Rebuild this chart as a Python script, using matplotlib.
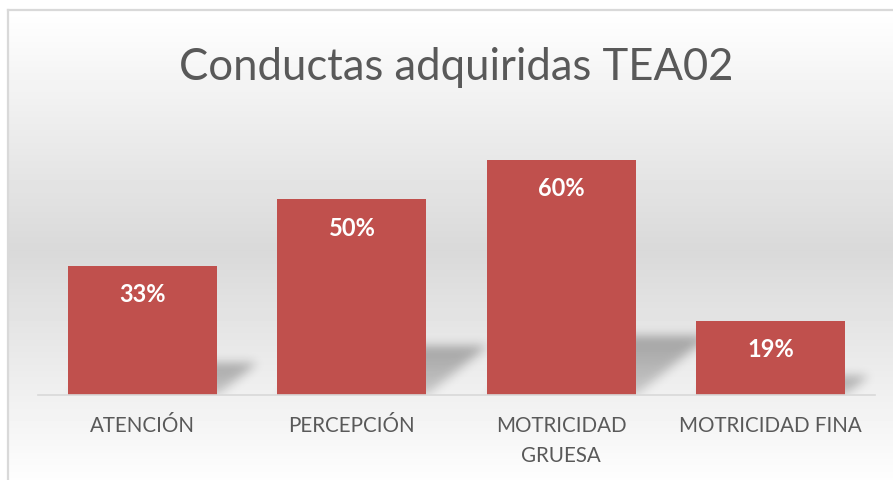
import numpy as np
import matplotlib
matplotlib.use("Agg")
import matplotlib.pyplot as plt
from matplotlib.lines import Line2D

# ---- data ----
categories = ["ATENCIÓN", "PERCEPCIÓN", "MOTRICIDAD\nGRUESA", "MOTRICIDAD FINA"]
values = [33, 50, 60, 19]
value_labels = ["33%", "50%", "60%", "19%"]
title = "Conductas adquiridas TEA02"

BAR_COLOR = "#C0504D"
TEXT_GRAY = "#595959"
FONT = "Lato"

W, H = 893, 480
fig = plt.figure(figsize=(W / 100, H / 100), dpi=100)

# ---- background vertical gradient (white -> gray -> white) ----
bg = fig.add_axes([0, 0, 1, 1], zorder=0)
bg.set_axis_off()
ypix = np.arange(H)
top_y, mid_y, bot_y = 10.0, 250.0, 490.0
g = np.where(ypix < mid_y,
             255 - (255 - 217) * np.clip((ypix - top_y) / (mid_y - top_y), 0, 1),
             217 + (255 - 217) * np.clip((ypix - mid_y) / (bot_y - mid_y), 0, 1))
grad = np.repeat(g[:, None], 8, axis=1) / 255.0
bg.imshow(grad, cmap="gray", vmin=0, vmax=1, aspect="auto",
          extent=(0, 1, 0, 1), origin="upper")
bg.set_xlim(0, 1)
bg.set_ylim(0, 1)
# white strip outside the chart border
bg.axvspan(0, 7 / W, color="white", zorder=2)
bg.axhspan(1 - 9 / H, 1, color="white", zorder=2)
# chart border (left and top)
fig.add_artist(Line2D([7.5 / W, 7.5 / W], [0, 1 - 9.5 / H], color="#d9d9d9", lw=1.6,
                      transform=fig.transFigure, zorder=3))
fig.add_artist(Line2D([7.5 / W, 1], [1 - 9.5 / H, 1 - 9.5 / H], color="#d9d9d9", lw=1.6,
                      transform=fig.transFigure, zorder=3))

# ---- main axes ----
left_px, right_px, base_px, top_px = 38, 875, 395, 120.6
ax = fig.add_axes([left_px / W, (H - base_px) / H, (right_px - left_px) / W,
                   (base_px - top_px) / H], zorder=1)
ax.patch.set_alpha(0)
ymax = 70
ax.set_xlim(-0.5, len(values) - 0.5)
ax.set_ylim(0, ymax)
x = np.arange(len(values))
bw = 0.713

# ---- perspective shadows (blurred) ----
nx, ny = int(right_px - left_px), int(base_px - top_px)
gx = -0.5 + (np.arange(nx) + 0.5) / nx * len(values)
gy = (np.arange(ny) + 0.5) / ny * ymax
XX, YY = np.meshgrid(gx, gy)
mask = np.zeros_like(XX)
px_per_x = nx / len(values)
px_per_y = ny / ymax
for xi, v in zip(x, values):
    hs = 0.25 * v                      # shadow height (data units)
    s = 1.25 * hs * px_per_y / px_per_x  # horizontal skew (data units)
    L, R = xi - bw / 2, xi + bw / 2
    t = np.clip(YY / hs, 0, 1)
    inside = (YY <= hs) & (XX >= L + s * t) & (XX <= R + s * t)
    # darker near the top of the shadow, fading towards the base
    mask = np.maximum(mask, inside * (0.55 + 0.45 * t))
# separable gaussian blur
sig = 5.0
k = np.exp(-0.5 * (np.arange(-16, 17) / sig) ** 2)
k /= k.sum()
mask = np.apply_along_axis(lambda r: np.convolve(r, k, mode="same"), 1, mask)
mask = np.apply_along_axis(lambda c: np.convolve(c, k, mode="same"), 0, mask)
shadow = np.zeros((ny, nx, 4))
shadow[..., 3] = 0.3 * mask
ax.imshow(shadow, extent=(-0.5, len(values) - 0.5, 0, ymax), origin="lower",
          aspect="auto", zorder=1, interpolation="bilinear")

# ---- bars ----
bars = ax.bar(x, values, width=bw, color=BAR_COLOR, zorder=2)
for b, lab in zip(bars, value_labels):
    ax.annotate(lab, (b.get_x() + b.get_width() / 2, b.get_height()),
                xytext=(0, -29), textcoords="offset pixels", ha="center", va="center",
                color="white", fontsize=17, fontweight="bold", family=FONT, zorder=3)

# ---- axes styling ----
for sp in ["top", "right", "left"]:
    ax.spines[sp].set_visible(False)
ax.spines["bottom"].set_color("#d9d9d9")
ax.spines["bottom"].set_linewidth(1.2)
ax.set_yticks([])
ax.set_xticks(x)
ax.set_xticklabels(categories, fontsize=14.8, color=TEXT_GRAY, family=FONT,
                   linespacing=1.65)
ax.tick_params(axis="x", length=0, pad=15)

# ---- title ----
fig.text(0.511, 1 - 80 / H, title, ha="center", va="baseline", fontsize=31.4,
         color=TEXT_GRAY, family=FONT)

fig.savefig("out.png", dpi=100)
